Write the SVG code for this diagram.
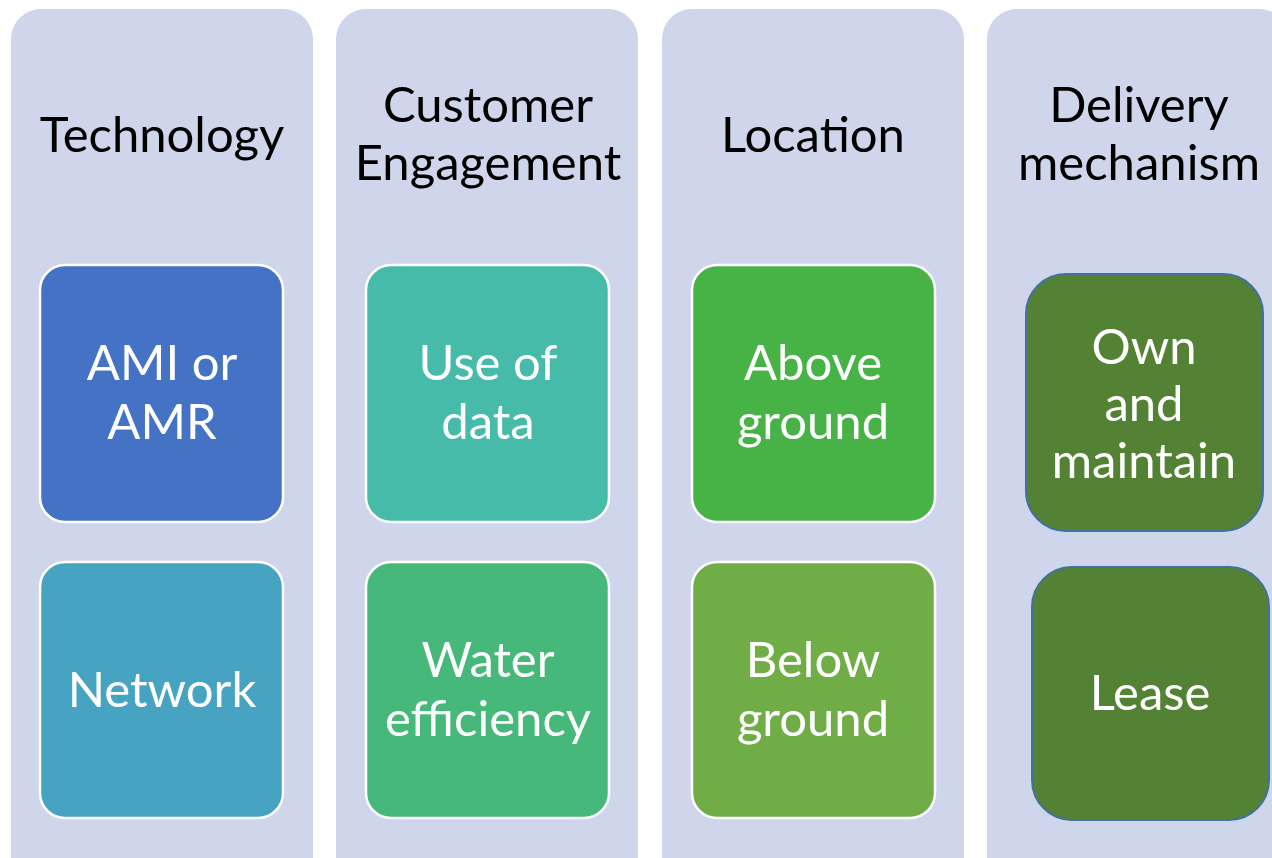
<svg xmlns="http://www.w3.org/2000/svg" width="1272" height="858" viewBox="0 0 1272 858">
  <style>
    .col { fill: #CFD5EA; }
    .head { font-family: Lato, "Open Sans", "Liberation Sans", sans-serif; font-size: 49px; fill: #000000; text-anchor: middle; }
    .item { stroke: #FFFFFF; stroke-width: 2.5; }
    .own { fill: #548235; stroke: #41719C; stroke-width: 2; }
    .label { font-family: Lato, "Open Sans", "Liberation Sans", sans-serif; font-size: 49px; fill: #FFFFFF; text-anchor: middle; }
  </style>
  <rect width="1272" height="858" fill="#FFFFFF"/>

  <!-- Column: Technology -->
  <g id="col-technology">
    <rect class="col" x="11" y="9" width="302" height="880" rx="30"/>
    <text class="head" x="162" y="152">Technology</text>
  </g>
  <g id="node-ami">
    <rect class="item" x="40" y="265" width="243" height="257" rx="25" fill="#4472C4"/>
    <text class="label" x="162" y="380">AMI or</text>
    <text class="label" x="162" y="439">AMR</text>
  </g>
  <g id="node-network">
    <rect class="item" x="40" y="562" width="243" height="256" rx="25" fill="#46A3C1"/>
    <text class="label" x="162" y="707">Network</text>
  </g>

  <!-- Column: Customer Engagement -->
  <g id="col-engagement">
    <rect class="col" x="336" y="9" width="302" height="880" rx="30"/>
    <text class="head" x="488" y="122">Customer</text>
    <text class="head" x="488" y="180">Engagement</text>
  </g>
  <g id="node-data">
    <rect class="item" x="366" y="265" width="243" height="257" rx="25" fill="#46BBA9"/>
    <text class="label" x="488" y="380">Use of</text>
    <text class="label" x="488" y="439">data</text>
  </g>
  <g id="node-water">
    <rect class="item" x="366" y="562" width="243" height="256" rx="25" fill="#46B87A"/>
    <text class="label" x="488" y="677">Water</text>
    <text class="label" x="488" y="736">efficiency</text>
  </g>

  <!-- Column: Location -->
  <g id="col-location">
    <rect class="col" x="662" y="9" width="302" height="880" rx="30"/>
    <text class="head" x="813" y="152">Location</text>
  </g>
  <g id="node-above">
    <rect class="item" x="692" y="265" width="243" height="257" rx="25" fill="#47B245"/>
    <text class="label" x="813" y="380">Above</text>
    <text class="label" x="813" y="439">ground</text>
  </g>
  <g id="node-below">
    <rect class="item" x="692" y="562" width="243" height="256" rx="25" fill="#70AD47"/>
    <text class="label" x="813" y="677">Below</text>
    <text class="label" x="813" y="736">ground</text>
  </g>

  <!-- Column: Delivery mechanism -->
  <g id="col-delivery">
    <rect class="col" x="987" y="9" width="302" height="880" rx="30"/>
    <text class="head" x="1139" y="122">Delivery</text>
    <text class="head" x="1139" y="180">mechanism</text>
  </g>
  <g id="node-own">
    <rect class="own" x="1026" y="274" width="237" height="257" rx="40"/>
    <text class="label" x="1144" y="364">Own</text>
    <text class="label" x="1144" y="421">and</text>
    <text class="label" x="1144" y="478">maintain</text>
  </g>
  <g id="node-lease">
    <rect class="own" x="1032" y="567" width="237" height="253" rx="40"/>
    <text class="label" x="1150" y="710">Lease</text>
  </g>

  <!-- No connectors between columns -->
  <g id="connectors"/>
</svg>
